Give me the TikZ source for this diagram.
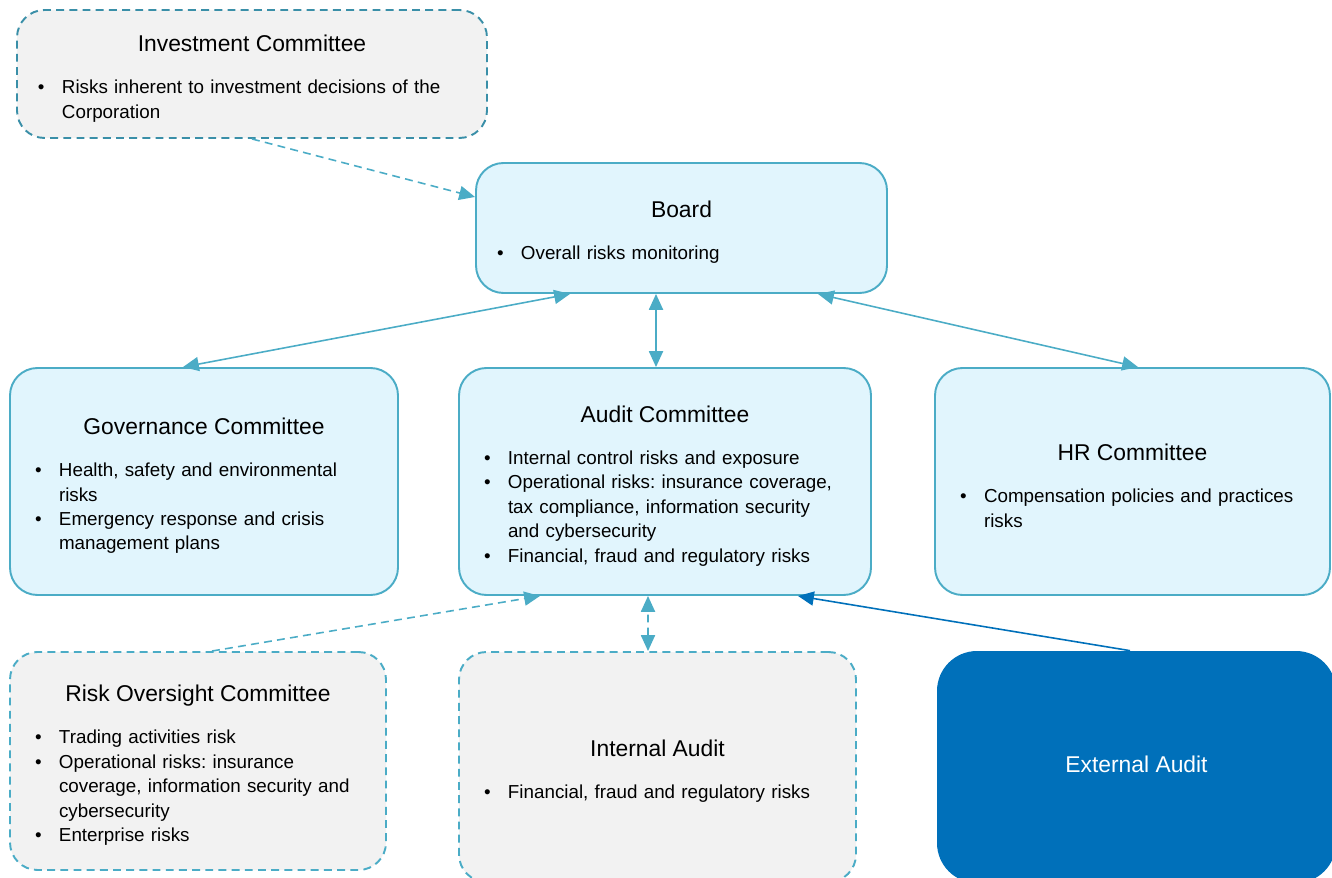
\documentclass[tikz,border=0pt]{standalone}
\usepackage{fontspec}
\setmainfont{Liberation Sans}
\usetikzlibrary{arrows.meta}

\definecolor{rimblue}{HTML}{4BACC6}
\definecolor{rimteal}{HTML}{3A8FA8}
\definecolor{paleblue}{HTML}{E1F5FD}
\definecolor{palegray}{HTML}{F2F2F2}
\definecolor{deepblue}{HTML}{0070BA}

% heading and bullet lines inside a committee box
\newcommand\boxhead[1]{{\centering\fontsize{13}{16}\selectfont #1\par}\vspace{10pt}}
\newcommand\bitem[1]{\noindent\hangindent=0.48cm\hangafter=1\makebox[0.48cm][l]{\textbullet}#1\par}
\newcommand\boxend{\par\vspace{-0.18cm}}

\begin{document}
\frenchspacing
\begin{tikzpicture}[>={Triangle[length=9pt,width=8pt]},
    panel/.style={rounded corners=0.55cm, line width=1.1pt, inner xsep=0.5cm,
      align=left, font=\fontsize{10.7}{13.9}\selectfont, execute at end node=\boxend},
    solidpanel/.style={panel, draw=rimblue, fill=paleblue},
    dashpanel/.style={panel, draw=rimblue, fill=palegray, dash pattern=on 4.5pt off 3pt},
    link/.style={rimblue, line width=0.9pt},
    dashlink/.style={link, dash pattern=on 4.5pt off 3pt}]
    \useasboundingbox (0,0) rectangle (26.64,17.54);

    % top row
    \node [dashpanel, draw=rimteal, inner xsep=0.42cm, minimum width=9.4cm, minimum height=2.56cm, text width=8.56cm] (inv) at (5.04,16.06)
      {\boxhead{Investment Committee}\bitem{Risks inherent to investment decisions of the\newline Corporation}};
    \node [solidpanel, inner xsep=0.42cm, minimum width=8.22cm, minimum height=2.6cm, text width=7.38cm] (board) at (13.63,12.98)
      {\boxhead{Board}\bitem{Overall risks monitoring}};

    % committees
    \node [solidpanel, minimum width=7.76cm, minimum height=4.54cm, text width=6.76cm] (gov) at (4.08,7.91)
      {\boxhead{Governance Committee}\bitem{Health, safety and environmental\newline risks}\bitem{Emergency response and crisis\newline management plans}};
    \node [solidpanel, minimum width=8.24cm, minimum height=4.54cm, text width=7.24cm] (audit) at (13.3,7.91)
      {\boxhead{Audit Committee}\bitem{Internal control risks and exposure}\bitem{Operational risks: insurance coverage,\newline tax compliance, information security\newline and cybersecurity}\bitem{Financial, fraud and regulatory risks}};
    \node [solidpanel, minimum width=7.9cm, minimum height=4.54cm, text width=6.9cm] (hr) at (22.65,7.91)
      {\boxhead{HR Committee}\bitem{Compensation policies and practices\newline risks}};

    % bottom row
    \node [dashpanel, minimum width=7.52cm, minimum height=4.36cm, text width=6.52cm] (risk) at (3.96,2.32)
      {\boxhead{Risk Oversight Committee}\bitem{Trading activities risk}\bitem{Operational risks: insurance\newline coverage, information security and\newline cybersecurity}\bitem{Enterprise risks}};
    \node [dashpanel, minimum width=7.94cm, minimum height=4.6cm, text width=6.94cm] (internal) at (13.15,2.2)
      {\boxhead{Internal Audit}\bitem{Financial, fraud and regulatory risks}};
    \node [rounded corners=0.8cm, fill=deepblue, text=white, font=\fontsize{13}{16}\selectfont,
      minimum width=7.98cm, minimum height=4.64cm] (ext) at (22.73,2.2) {\raisebox{0.12cm}{External Audit}};

    % reporting lines
    \draw [dashlink, ->] (inv.south) -- ([yshift=0.62cm]board.west);
    \draw [link, <->] ([xshift=-2.23cm]board.south) -- ([xshift=-0.42cm]gov.north);
    \draw [link, <->] ([xshift=-0.51cm]board.south) -- ([xshift=-0.18cm]audit.north);
    \draw [link, <->] ([xshift=2.73cm]board.south) -- ([xshift=0.11cm]hr.north);
    \draw [dashlink, ->] ([xshift=0.28cm]risk.north) -- ([xshift=-2.5cm]audit.south);
    \draw [dashlink, <->] ([xshift=-0.19cm]internal.north) -- ([xshift=-0.34cm]audit.south);
    \draw [link, deepblue, ->] ([xshift=-0.13cm]ext.north) -- ([xshift=2.66cm]audit.south);
\end{tikzpicture}
\end{document}
